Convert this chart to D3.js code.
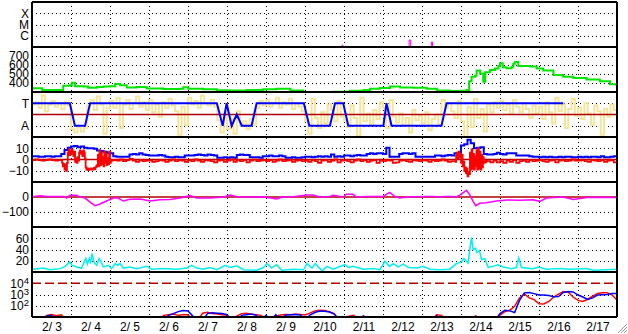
<!DOCTYPE html>
<html>
<head>
<meta charset="utf-8">
<title>solar wind summary</title>
<script src="https://cdn.jsdelivr.net/npm/d3@7"></script>
<style>
  body { margin: 0; background: #fff; }
  svg text { font-family: "Liberation Sans", Arial, sans-serif; font-size: 12px; fill: #000; }
</style>
</head>
<body>
<script>
// time is in days counted from 2/3 00:00
var dayLabels = ["2/ 3","2/ 4","2/ 5","2/ 6","2/ 7","2/ 8","2/ 9","2/10","2/11","2/12","2/13","2/14","2/15","2/16","2/17"];

// x-ray flux (W/m2), mostly below the panel
var xrayT = [0, 7.94, 7.95, 7.97, 9.66, 9.67, 9.71, 9.72, 10.23, 10.24, 10.27, 10.28, 15];
var xrayF = [5e-8, 5e-8, 1.5e-7, 5e-8, 5e-8, 4.2e-7, 1.2e-7, 5e-8, 5e-8, 2.8e-7, 1.2e-7, 5e-8, 5e-8];

// solar wind speed (km/s), null = no data
var windT = [0.02,0.25,0.26,0.80,0.97,1.02,1.10,1.32,1.44,1.66,1.83,2.0,2.13,2.26,2.43,2.68,2.94,3.37,3.79,3.88,4.01,4.39,4.74,5.08,5.50,5.93,6.27,6.62,6.96,7.3,
  7.68,8.15,8.50,8.67,8.92,9.18,9.44,9.78,10.12,10.38,10.72,10.97,11.15,11.21,11.27,11.36,11.40,11.49,11.57,11.62,11.74,11.87,11.96,12.0,12.07,12.17,12.30,12.34,12.38,12.47,12.64,12.77,12.94,13.11,13.37,13.62,13.88,14.22,14.56,14.82,14.99];
var windV = [341,341,322,370,375,403,365,360,348,355,360,365,388,375,350,355,340,333,335,352,335,330,320,318,322,330,335,318,312,null,
  303,315,322,335,345,360,350,348,335,318,310,315,322,420,470,480,540,505,415,520,545,560,590,620,575,565,580,615,632,590,590,582,560,540,490,470,455,440,420,385,365];

// IMF direction scatter (T = +1, A = -1), every 2 hours
var bAngle = [
  0.9,1.1,0.6,1.7,0.3,0.9,1.2,0.7,1.0,0.5,1.1,0.8,
  -1.3,-1.6,-1.1,-1.5,-1.2,0.8,1.3,0.4,1.6,0.9,-1.7,0.6,
  1.2,0.6,1.5,-1.2,0.9,1.3,0.5,1.0,1.6,0.7,1.1,0.4,
  1.3,0.2,0.9,-0.2,1.1,0.6,1.4,0.8,0.3,-1.8,0.7,-0.9,
  1.5,0.9,1.2,0.6,1.7,1.0,0.8,1.3,0.7,-0.5,-1.6,0.2,
  -1.3,-0.4,-1.7,0.3,-1.0,-0.6,-1.3,-0.4,-0.9,0.6,1.2,0.8,
  1.3,0.7,1.0,1.5,0.6,1.1,0.9,1.4,0.5,1.0,0.7,0.3,
  -0.6,-1.7,1.4,-0.3,-1.2,0.2,-0.8,0.9,0.4,-0.6,1.2,-0.2,
  -0.5,-1.1,0.8,-0.3,-1.9,1.5,-0.6,0.1,-0.9,0.4,-0.4,1.1,
  0.6,-1.2,1.3,-0.2,-0.7,0.1,-1.0,-0.3,-1.6,0.4,-0.5,-0.1,
  -0.8,0.2,-1.4,-0.4,0.0,-0.9,1.3,0.6,1.0,0.3,-0.3,1.2,
  -0.6,-2.0,0.7,-1.1,1.4,-0.3,0.5,-1.5,0.9,0.2,1.1,0.6,
  1.2,0.4,0.9,0.1,1.3,0.7,0.2,1.0,0.5,-0.3,0.8,0.1,
  0.7,-0.4,1.1,0.2,-0.8,1.5,0.3,0.9,-1.2,0.5,1.4,-0.1,
  0.6,-0.4,1.0,0.1,-0.9,0.8,0.3,-1.8,0.5,-0.2,0.9,0.4, 0.4];

// sector (T/A) line
var sectorT = [0,0.97,1.10,1.36,1.49,4.74,4.89,4.99,5.12,5.25,5.38,5.63,5.76,6.97,7.11,7.64,7.77,7.98,8.11,9.01,9.09,9.22,10.50,10.63,13.62];
var sectorV = [1,1,-1,-1,1,1,-1,1,-1,0,-1,-1,1,1,-1,-1,1,1,-1,-1,1,-1,-1,1,1];

// Bt and Bz (nT), every 2 hours
var bt = [
  3,3,2.5,2.5,3,3,2.5,3,3,5,8.5,10.5,
  11.5,12,11,11.5,10.5,10,10,9.5,8,7.5,7,6,
  5.5,3,2.5,2.5,2.5,2.5,4.5,5,4.5,5.5,4.5,4,
  3.5,3.5,3.5,4,3.5,2.5,2,2,2.5,2,2,3.5,
  3.5,3.5,4,4.5,4,3.5,4.5,4,3.5,1.5,1.5,2,
  1.5,2,1.5,4,4.5,4,4,2,2,2,1.5,3,
  3,3.5,3,3,3.5,3,1.5,1.5,2,1.5,1.5,2,
  2.5,2.5,2,2.5,3,2.5,3,2.5,4.5,2.5,3,2.5,
  3.5,3.5,3,3.5,4,3.5,3.5,5,5.5,5,5.5,5.5,
  5,10.5,2.5,2.5,2.5,5,5.5,5.5,5,5.5,2.5,2.5,
  2.5,2.5,2.5,2.5,3.5,3.5,3,3.5,4,3.5,5.5,5.5,
  12.5,13.5,17.5,14.5,10,10.5,11,5,4.5,4.5,5,6,
  5,4.5,5.5,5.5,5.5,3.5,3.5,3.5,3.5,3,2.5,2.5,
  2,2.5,2,2.5,2,2,2.5,2,2.5,2.5,2,2,
  2.5,2,2.5,2,2.5,2.5,2,3,2,2,2.5,3, 3];
var bz = [
  -0.5,0,-0.5,-1,-0.5,0,-0.5,-1,-0.5,-6,-9.5,6,
  8,-2,6,8,7,-8,-9,-8.5,-5,7,-6,5,
  -3,-0.5,-1,0,-1.5,-0.5,0.5,-1,-2,-0.5,-1.5,-1,
  -1,-2,-1.5,-0.5,-1,-2,-1,0,-1.5,-0.5,-1,-2,
  -0.5,-1.5,0,-1,-2,-0.5,-1,-1.5,-2.5,-1,-0.5,-2,
  -1,0,-2,-0.5,-1.5,-0.5,-2.5,-1,0,-1.5,-1,-0.5,
  -1.5,-0.5,-2,-1,0,-1.5,-1,-0.5,-2,-1,-0.5,-1.5,
  -1,-2,-0.5,-1.5,-3,-1,-0.5,-2,-1,0,-2.5,-1,
  -0.5,-1.5,-2.5,-1,0,-1.5,-0.5,-2,-1,-0.5,-3,-1,
  -1.5,-0.5,-1,-3,-2.5,-1,-0.5,-1.5,-2,-0.5,-1,-1.5,
  -0.5,-1,-2,-0.5,-1.5,-1,0,-1,-2,-1.5,6,-3,
  -2,-10,-15,8,-9,6,-10,-3,-1.5,-2.5,-1,-2.5,
  -1.5,-3,-1,-2,-0.5,-3,-1.5,-1,-2,-0.5,-1.5,-1,
  -0.5,-1.5,-2,-1,-0.5,-2.5,-1,-0.5,-1.5,-1,0,-1,
  -1,-0.5,-1.5,-2,-0.5,-1,-1.5,-0.5,-2,-1,-0.5,-2.5, -2];
// Bz at 30-minute steps through the two disturbed stretches
var bzFine1Start = 0.75;
var bzFine1 = [-0.5,-3,-6,-4,-9,-5,-10,-3,6,9,4,8,5,9,7,3,7,-2,1,-3,2,-1,6,8,5,7,3,8,6,1,
  -7,-9,-8,-9.5,-8.5,-9,-8,-9,-8.5,-9,-7.5,-8.5,-7,-6,-5,4,-6,8,-5,6,-4,2,-6,7,-3,5,-5,1,-4,7,-3,-1,-0.5,-1];
var bzFine2Start = 10.8333;
var bzFine2 = [-1.5,-2,3,6,1,7,2,5,-3,4,-6,-2,-10,-7,-12,-8,-15,-11,-13,6,-9,9,-8,5,-9,3,-6,8,-9,10,
  -8,7,-9,4,-7,2,-3,-1.5,-2.5,-1];

// Dst (nT)
var dstT = [0.0,0.21,0.38,0.8,0.89,0.97,1.15,1.19,1.36,1.53,1.62,1.74,1.91,2.09,2.21,2.34,2.51,2.77,3.03,3.28,3.54,3.80,4.05,4.22,4.56,4.91,5.08,5.25,5.59,5.93,6.27,6.44,6.70,7.04,7.21,7.38,7.64,
  7.72,7.98,8.06,8.23,8.32,8.58,9.00,9.17,9.30,9.43,9.60,10.11,10.29,10.46,10.54,10.71,10.88,10.97,11.14,11.23,11.31,11.38,11.48,11.65,11.91,12.17,12.51,12.85,13.02,13.19,13.62,13.88,14.22,14.73,14.99];
var dstV = [2,9,4,4,-7,11,11,4,-7,-42,-58,-47,-27,-7,-7,-27,-15,-13,-27,-18,-16,-7,9,-7,-7,0,13,2,0,2,-13,2,2,13,13,0,4,
  11,0,18,18,0,4,4,31,4,-7,0,4,4,0,4,4,0,13,44,13,-29,-58,-42,-38,-27,-20,-22,-18,-29,-7,0,-16,-4,-2,-4];

// cyan index
var kT = [0.03,0.29,0.46,0.72,0.85,0.97,1.02,1.15,1.27,1.38,1.42,1.47,1.50,1.54,1.59,1.66,1.72,1.77,1.83,1.96,2.04,2.13,2.19,2.26,2.34,2.51,2.68,2.94,3.07,3.37,3.71,3.97,4.09,4.22,4.39,4.56,4.74,4.95,5.08,5.25,5.42,5.76,5.93,6.03,6.14,6.27,6.40,6.70,6.96,7.05,7.18,7.26,7.44,7.56,
  7.72,8.02,8.11,8.23,8.49,8.75,8.92,9.05,9.17,9.26,9.39,9.52,9.65,9.86,10.03,10.2,10.46,10.71,10.88,11.01,11.07,11.18,11.23,11.27,11.31,11.37,11.41,11.47,11.53,11.61,11.70,11.82,11.95,12.08,12.29,12.42,12.48,12.55,12.85,12.98,13.19,13.53,13.79,14.22,14.39,14.73,14.99];
var kV = [5,7,4,6,10,18,12,9,7,24,14,24,15,33,17,12,24,18,9,12,6,15,12,15,7,9,6,10,5,6,5,7,12,7,5,8,4,12,8,11,4,3,8,15,7,13,3,5,4,15,7,15,2,10,
  5,13,8,10,5,6,4,19,10,15,9,14,8,7,10,5,4,5,15,18,24,16,42,61,40,42,35,38,22,24,8,10,13,9,6,8,25,8,6,9,5,6,5,6,3,4,5];

// proton flux, every 3 hours
var protRed = [
  5,5,5,14,17,13,16,5, 5,5,5,5,5,5,5,5, 5,5,5,5,5,5,5,5,
  5,5,5,14,16,18,14,16, 16,5,5,22,26,20,18,16, 14,5,12,20,22,18,16,14,
  5,5,12,15,17,16,18,17, 15,22,35,40,38,30,20,5, 5,12,14,5,13,5,5,5,
  5,5,5,5,5,5,5,5, 5,5,5,16,14,5,5,5, 5,5,5,13,5,5,5,5,
  15,30,40,90,500,1100,500,350, 150,145,240,600,1100,1800,1600,600, 300,240,380,700,1250,1400,1450,900, 320];
var protBlue = [
  5,5,5,12,14,5,5,5, 5,5,5,5,5,5,5,5, 5,5,5,5,5,5,5,5,
  5,5,5,5,14,20,30,38, 34,12,5,5,20,24,22,20, 16,5,5,14,16,18,14,5,
  14,5,16,5,15,16,17,16, 5,15,25,34,32,28,18,5, 5,5,5,5,12,5,5,5,
  5,5,5,5,5,5,5,5, 5,5,5,13,5,5,5,5, 5,5,5,5,5,5,5,5,
  20,40,35,25,300,1400,1500,1200, 900,900,800,630,650,1500,1800,1700, 900,600,370,500,900,950,1000,1250, 1250];

var W = 628, H = 334, left = 32, right = 617;
var svg = d3.select("body").append("svg").attr("width", W).attr("height", H);

var x = d3.scaleLinear().domain([0, 15]).range([left, right]);
function panelTop(i) { return 2 + 45 * i; }

var yX = d3.scaleLog().domain([1e-7, 1e-3]).range([panelTop(1), panelTop(0)]);
var yW = d3.scaleLinear().domain([300, 800]).range([panelTop(2), panelTop(1)]);
var yS = d3.scaleLinear().domain([-2, 2]).range([panelTop(3), panelTop(2)]);
var yB = d3.scaleLinear().domain([-20, 20]).range([panelTop(4), panelTop(3)]);
var yDst = d3.scaleLinear().domain([-200, 100]).range([panelTop(5), panelTop(4)]);
var yK = d3.scaleLinear().domain([0, 80]).range([panelTop(6), panelTop(5)]);
var yP = d3.scaleLog().domain([10, 1e5]).range([panelTop(7), panelTop(6)]);

// clip paths, one per panel
var defs = svg.append("defs");
for (var i = 0; i < 7; i++) {
  defs.append("clipPath").attr("id", "c" + i).append("rect")
    .attr("x", left).attr("y", panelTop(i)).attr("width", right - left).attr("height", 45);
}

var grid = svg.append("g");
function hgrid(scale, vals) {
  grid.selectAll(null).data(vals).enter().append("line")
    .attr("x1", left).attr("x2", right)
    .attr("y1", d => Math.round(scale(d)) + 0.5).attr("y2", d => Math.round(scale(d)) + 0.5)
    .attr("stroke", "#000").attr("stroke-dasharray", "1,3");
}
hgrid(yX, [1e-4, 1e-5, 1e-6]);
hgrid(yW, [700, 600, 500, 400]);
hgrid(yS, [1, -1]);
hgrid(yB, [10, -10]);
hgrid(yDst, [-100]);
hgrid(yK, [60, 40, 20]);
hgrid(yP, [1e3, 1e2]);

grid.selectAll(null).data(d3.range(1, 15)).enter().append("line")
  .attr("x1", d => Math.round(x(d)) + 0.5).attr("x2", d => Math.round(x(d)) + 0.5)
  .attr("y1", panelTop(0)).attr("y2", panelTop(7))
  .attr("stroke", "#000").attr("stroke-dasharray", "1,3");

function zeroLine(scale, v, dash) {
  svg.append("line").attr("x1", left).attr("x2", right)
    .attr("y1", scale(v)).attr("y2", scale(v))
    .attr("stroke", "#b00000").attr("stroke-width", 1.5)
    .attr("stroke-dasharray", dash || null);
}

function series(panel, pts, scale, color, width, curve) {
  var line = d3.line()
    .defined(d => d[1] != null)
    .x(d => x(d[0])).y(d => scale(d[1]))
    .curve(curve || d3.curveLinear);
  return svg.append("path").datum(pts)
    .attr("clip-path", "url(#c" + panel + ")")
    .attr("fill", "none").attr("stroke", color).attr("stroke-width", width)
    .attr("d", line);
}
function pairs(t, v) { return t.map((d, i) => [d, v[i]]); }
function stepped(v, per, start) { return v.map((d, i) => [(start || 0) + i / per, d]); }

// Bz: 2-hour values, replaced by the 30-minute values where those exist
var fine1 = stepped(bzFine1, 48, bzFine1Start), fine2 = stepped(bzFine2, 48, bzFine2Start);
var fine1End = bzFine1Start + bzFine1.length / 48, fine2End = bzFine2Start + bzFine2.length / 48;
var bzPts = stepped(bz, 12)
  .filter(p => !(p[0] >= bzFine1Start - 1e-6 && p[0] < fine1End - 1e-6) && !(p[0] >= bzFine2Start - 1e-6 && p[0] < fine2End - 1e-6))
  .concat(fine1, fine2)
  .sort((a, b) => a[0] - b[0]);

// x-ray
series(0, pairs(xrayT, xrayF), yX, "#ff00ff", 1, d3.curveStepAfter);
// wind speed
series(1, pairs(windT, windV), yW, "#00e600", 2, d3.curveStepAfter);
// sector panel
series(2, stepped(bAngle, 12), yS, "#f4e59a", 2, d3.curveStepAfter);
zeroLine(yS, 0);
series(2, pairs(sectorT, sectorV), yS, "#0000ff", 2);
// Bt / Bz
series(3, stepped(bt, 12), yB, "#0000ff", 2, d3.curveStepAfter);
zeroLine(yB, 0);
series(3, bzPts, yB, "#ff0000", 1.8, d3.curveStepAfter);
// Dst
zeroLine(yDst, 0);
series(4, pairs(dstT, dstV), yDst, "#ff00ff", 1.5);
// cyan
series(5, pairs(kT, kV), yK, "#00f0f0", 1.5);
// protons
zeroLine(yP, 1e4, "9,4");
series(6, stepped(protRed, 8), yP, "#ff0000", 1.5);
series(6, stepped(protBlue, 8), yP, "#0000ff", 1.5);

// panel frames
var frame = svg.append("g").attr("stroke", "#000").attr("stroke-width", 2);
frame.selectAll(null).data(d3.range(0, 8)).enter().append("line")
  .attr("x1", left).attr("x2", right).attr("y1", d => panelTop(d)).attr("y2", d => panelTop(d));
frame.selectAll(null).data([left, right]).enter().append("line")
  .attr("x1", d => d).attr("x2", d => d).attr("y1", panelTop(0)).attr("y2", panelTop(7));

// y axes
function yAxis(scale, vals, fmt) {
  var g = svg.append("g").attr("transform", "translate(" + left + ",0)")
    .call(d3.axisLeft(scale).tickValues(vals).tickFormat(fmt).tickSize(0).tickPadding(3));
  g.select(".domain").remove();
  return g;
}
var xrayLabels = ["X", "M", "C"];
yAxis(yX, [1e-4, 1e-5, 1e-6], (d, i) => xrayLabels[i]);
yAxis(yW, [700, 600, 500, 400], d3.format("d"));
var sectorLabels = ["T", "A"];
yAxis(yS, [1, -1], (d, i) => sectorLabels[i]);
yAxis(yB, [10, 0, -10], d3.format("d"));
yAxis(yDst, [0, -100], d3.format("d"));
yAxis(yK, [60, 40, 20], d3.format("d"));
var gp = yAxis(yP, [1e4, 1e3, 1e2], () => "10");
gp.selectAll(".tick text").each(function(d) {
  d3.select(this).append("tspan").attr("dy", "-4").attr("font-size", "9.5px")
    .text(Math.round(Math.log10(d)));
});

// date axis
var gx = svg.append("g").attr("transform", "translate(0," + panelTop(7) + ")")
  .call(d3.axisBottom(x).tickValues(d3.range(15).map(d => d + 0.5))
    .tickFormat((d, i) => dayLabels[i]).tickSize(0).tickPadding(5));
gx.select(".domain").remove();
gx.selectAll("text").style("white-space", "pre");

// window resize grip
var grip = svg.append("g").attr("stroke", "#9a9a9a").attr("stroke-width", 1);
[[618, 333, 627, 324], [621, 333, 627, 327], [624, 333, 627, 330]].forEach(function(p) {
  grip.append("line").attr("x1", p[0]).attr("y1", p[1]).attr("x2", p[2]).attr("y2", p[3]);
});
</script>
</body>
</html>
